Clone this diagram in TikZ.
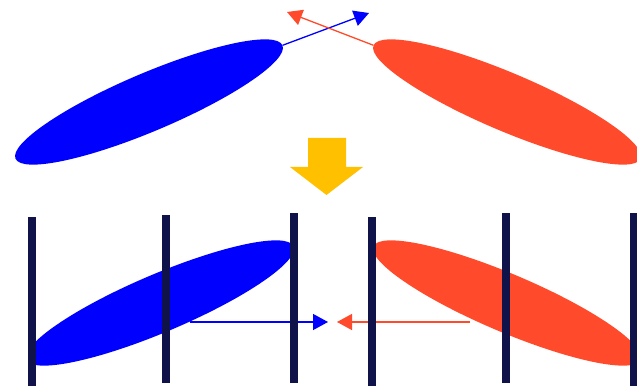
\documentclass[tikz,border=0pt]{standalone}
\usepackage{tikz}
\usetikzlibrary{arrows.meta,shapes.geometric}
\definecolor{mBlue}{HTML}{0000FF}
\definecolor{mRed}{HTML}{FF4B2B}
\definecolor{mNavy}{HTML}{10124A}
\definecolor{mGold}{HTML}{FFC000}

\begin{document}
\begin{tikzpicture}[
  x=0.03cm,y=0.03cm,
  blob/.style={ellipse,draw=none,inner sep=0pt,minimum width=8.7cm,minimum height=1.74cm},
  bar/.style={draw=mNavy,line width=0.24cm},
  arr/.style={-{Triangle[length=0.45cm,width=0.48cm]},line width=0.039cm}
]
\path[use as bounding box] (0,0) rectangle (637,386);
% before
\node[blob,fill=mBlue,rotate=23] (blueA) at (149,284) {};
\node[blob,fill=mRed,rotate=-23] (redA) at (507,284) {};
\coordinate (blueTip) at (369,373);
\coordinate (redTip) at (287,374);
\draw[arr,mBlue] (blueA.east) -- (blueTip);
\draw[arr,mRed] (redA.west) -- (redTip);
% big arrow
\fill[mGold] (308,248) -- (346,248) -- (346,219) -- (363,219) -- (326.5,191)
  -- (290,219) -- (308,219) -- cycle;
% after
\coordinate (blueFrom) at (190,64);
\coordinate (redFrom) at (470,64);
\coordinate (blueEnd) at (328,64);
\coordinate (redEnd) at (337,64);
\draw[arr,mBlue] (blueFrom) -- (blueEnd);
\draw[arr,mRed] (redFrom) -- (redEnd);
\begin{scope}
  \clip (32,0) rectangle (294,386);
  \node[blob,fill=mBlue,rotate=23] (blueB) at (160,83) {};
\end{scope}
\begin{scope}
  \clip (372,0) rectangle (634,386);
  \node[blob,fill=mRed,rotate=-23] (redB) at (507,83) {};
\end{scope}
\draw[bar] (32,0) -- (32,169);
\draw[bar] (166,3) -- (166,171);
\draw[bar] (294,3) -- (294,173);
\draw[bar] (372,0) -- (372,169);
\draw[bar] (506,3) -- (506,173);
\draw[bar] (634,0) -- (634,173);
\end{tikzpicture}
\end{document}
